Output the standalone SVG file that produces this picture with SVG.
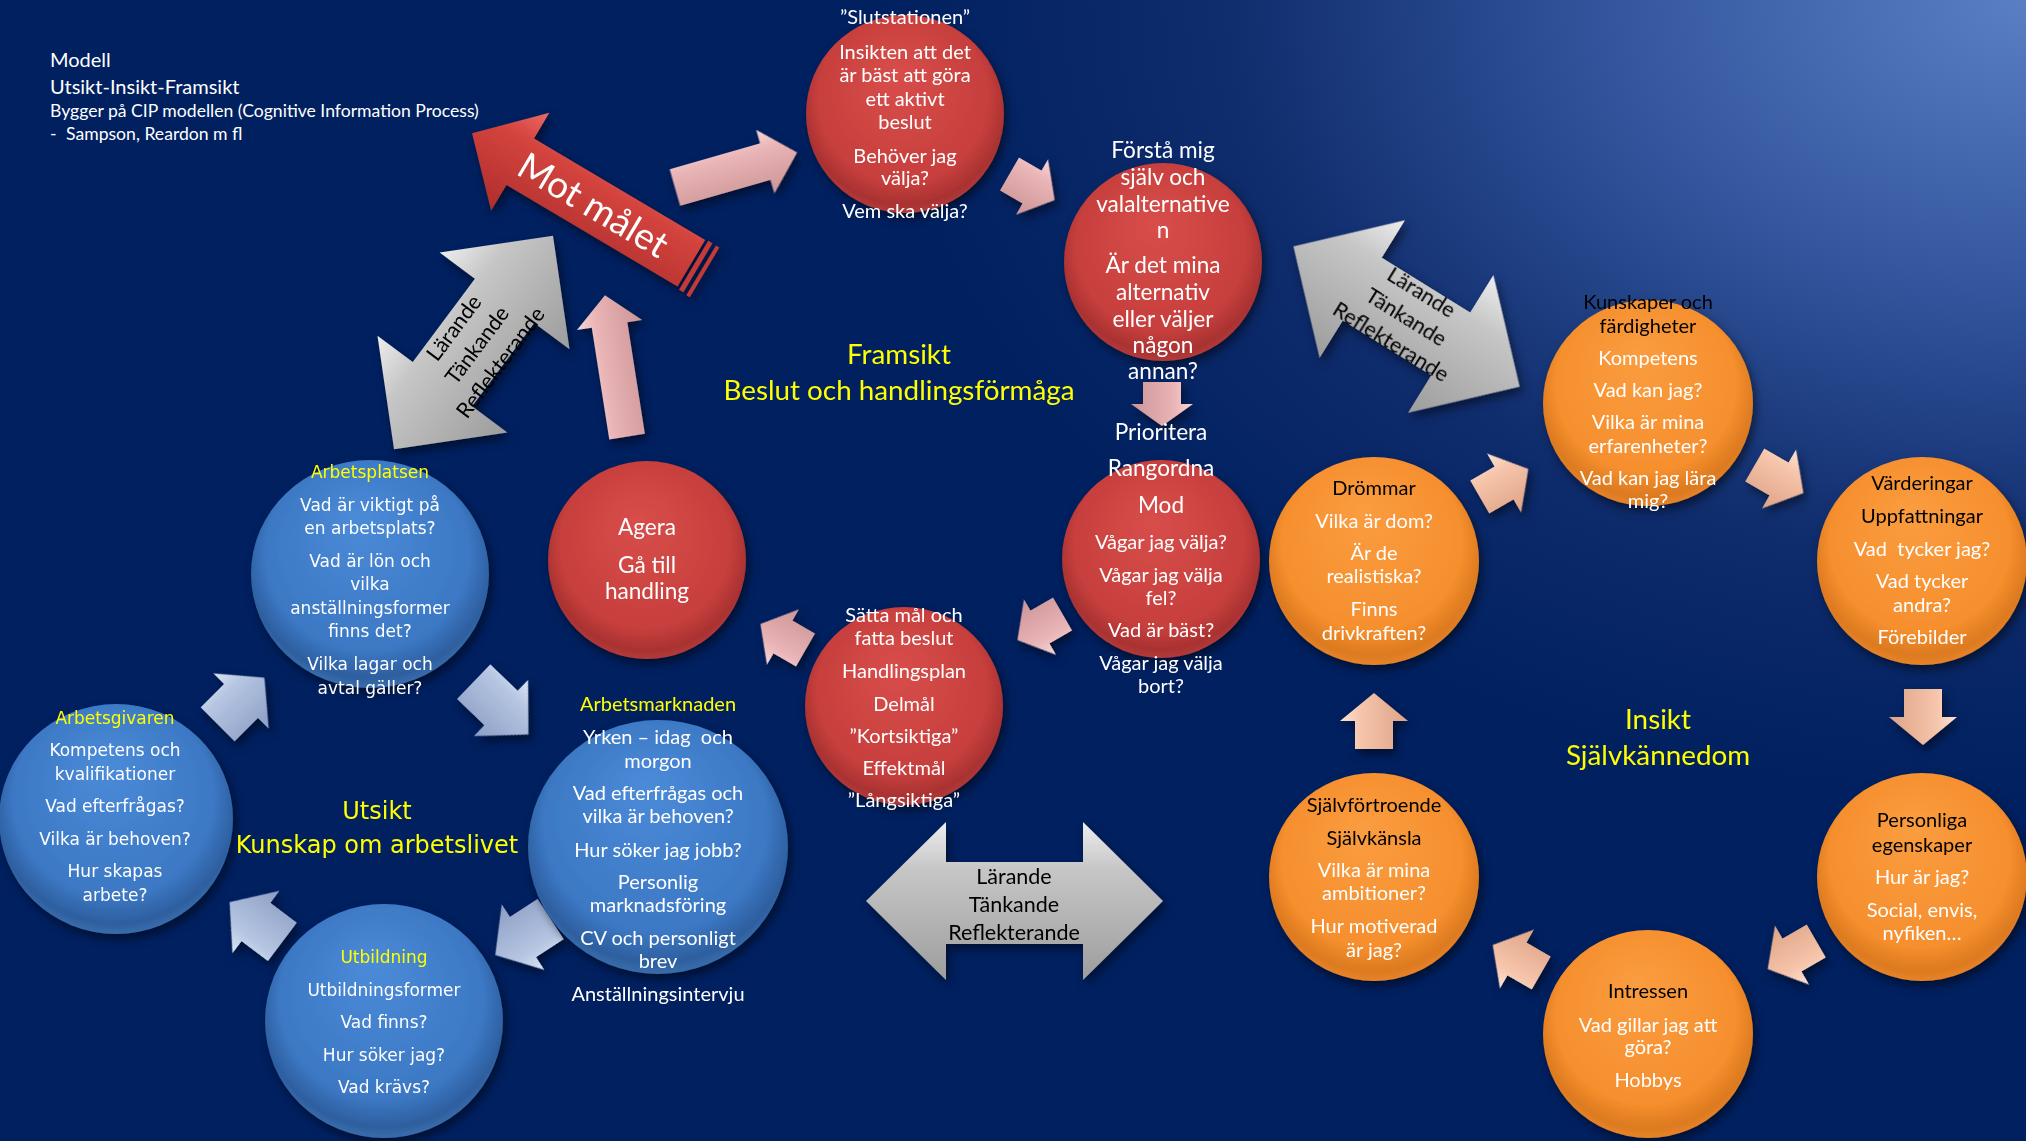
<svg xmlns="http://www.w3.org/2000/svg" width="2026" height="1141" viewBox="0 0 2026 1141">
<defs>
<style>
.lt{font-family:Lato,"Liberation Sans",sans-serif;text-anchor:middle}
.ls{font-family:Lato,"Liberation Sans",sans-serif;text-anchor:start;fill:#fff}
.dv{font-family:"DejaVu Sans",Verdana,sans-serif;text-anchor:middle}
.w{fill:#fff}.k{fill:#000}.y{fill:#ffff00}
.f15{font-size:17.6px}.f17{font-size:17px}.f19{font-size:20px}.f20{font-size:20px}.f21{font-size:22.6px}.fg{font-size:21.5px}.f24{font-size:24px}.f26{font-size:27.8px}.f36{font-size:37px}
.pre{white-space:pre}
.red{fill:url(#gRed)}.blue{fill:url(#gBlue)}.org{fill:url(#gOrg)}
.sh{filter:url(#shadow)}
</style>
<filter id="shadow" x="-20%" y="-20%" width="140%" height="140%">
<feDropShadow dx="3" dy="5" stdDeviation="5" flood-color="#000" flood-opacity="0.5"/>
</filter>
<radialGradient id="bgGlow" gradientUnits="userSpaceOnUse" cx="2026" cy="0" r="1000" gradientTransform="translate(2026 0) scale(1.15 0.8) translate(-2026 0)">
<stop offset="0" stop-color="#5b7fc3"/>
<stop offset="0.35" stop-color="#34579f"/>
<stop offset="0.7" stop-color="#0f2c6c"/>
<stop offset="1" stop-color="#002060"/>
</radialGradient>
<radialGradient id="gRed" cx="0.5" cy="0.45" r="0.55" fx="0.45" fy="0.3">
<stop offset="0" stop-color="#d84e4a"/>
<stop offset="0.78" stop-color="#c73f3d"/>
<stop offset="0.94" stop-color="#a93231"/>
<stop offset="1" stop-color="#b43a3a"/>
</radialGradient>
<radialGradient id="gBlue" cx="0.5" cy="0.45" r="0.55" fx="0.45" fy="0.25">
<stop offset="0" stop-color="#4b8bd8"/>
<stop offset="0.78" stop-color="#3c78c4"/>
<stop offset="0.94" stop-color="#2d5f9f"/>
<stop offset="1" stop-color="#3a6cab"/>
</radialGradient>
<radialGradient id="gOrg" cx="0.5" cy="0.45" r="0.55" fx="0.45" fy="0.25">
<stop offset="0" stop-color="#fa9d40"/>
<stop offset="0.78" stop-color="#f68f2e"/>
<stop offset="0.94" stop-color="#dc7a1f"/>
<stop offset="1" stop-color="#e8832a"/>
</radialGradient>
<linearGradient id="gPink" x1="0" y1="0" x2="0" y2="1">
<stop offset="0" stop-color="#f8d8d8"/>
<stop offset="0.3" stop-color="#eab5b6"/>
<stop offset="1" stop-color="#cc9597"/>
</linearGradient>
<linearGradient id="gBlueA" x1="0" y1="0" x2="0" y2="1">
<stop offset="0" stop-color="#dbe5f4"/>
<stop offset="0.3" stop-color="#b5c5e1"/>
<stop offset="1" stop-color="#8c9ec5"/>
</linearGradient>
<linearGradient id="gPeach" x1="0" y1="0" x2="0" y2="1">
<stop offset="0" stop-color="#fde4d6"/>
<stop offset="0.3" stop-color="#f6c5ab"/>
<stop offset="1" stop-color="#dea386"/>
</linearGradient>
<linearGradient id="gGray" x1="0" y1="0" x2="0" y2="1">
<stop offset="0" stop-color="#eeeeee"/>
<stop offset="0.3" stop-color="#c6c6c6"/>
<stop offset="1" stop-color="#9d9d9d"/>
</linearGradient>
<linearGradient id="gRedA" x1="0" y1="0" x2="0" y2="1">
<stop offset="0" stop-color="#ec6a65"/>
<stop offset="0.3" stop-color="#d5443f"/>
<stop offset="1" stop-color="#ae2e2c"/>
</linearGradient>
<path id="aSmall" d="M-26,-19 H0 V-32 L26,0 L0,32 V19 H-26 Z"/>
<path id="aBlue" d="M-33,-24 H0 V-39 L33,0 L0,39 V24 H-33 Z"/>
<path id="aOrg" d="M-28,-19 H0 V-34 L28,0 L0,34 V19 H-28 Z"/>
<path id="aGray" d="M-133,0 L-52,-81 V-37 H52 V-81 L133,0 L52,81 V37 H-52 V81 Z"/>
</defs>

<rect x="0" y="0" width="2026" height="1141" fill="#002060"/>
<rect x="0" y="0" width="2026" height="1141" fill="url(#bgGlow)"/>

<g id="title">
<text class="ls f20" x="50" y="67">Modell</text>
<text class="ls f20" x="50" y="94">Utsikt-Insikt-Framsikt</text>
<text class="ls f15" x="50" y="117">Bygger på CIP modellen (Cognitive Information Process)</text>
<text class="ls f15" x="50" y="140">-</text>
<text class="ls f15" x="66" y="140">Sampson, Reardon m fl</text>
</g>

<g id="connectors" filter="url(#shadow)">
<g id="arrow-mot-malet" transform="translate(583,199) rotate(30.7)">
<path d="M-129,0 L-73,-57 V-27 H126 V27 H-73 V57 Z" fill="url(#gRedA)"/>
<rect x="129" y="-28" width="5" height="57" fill="#c23a38"/>
<rect x="138" y="-28" width="4" height="58" fill="#c23a38"/>
<text class="lt w f36" x="12" y="13">Mot målet</text>
</g>
<g id="arrow-ltr-1" transform="translate(473.5,342.5) rotate(-53.3)">
<use href="#aGray" fill="url(#gGray)"/>
<text class="lt k fg" x="0" y="-17">Lärande</text>
<text class="lt k fg" x="0" y="12">Tänkande</text>
<text class="lt k fg" x="0" y="41">Reflekterande</text>
</g>
<g id="arrow-ltr-2" transform="translate(1406.5,316.5) rotate(31.8)">
<use href="#aGray" fill="url(#gGray)"/>
<text class="lt k fg" x="0" y="-21">Lärande</text>
<text class="lt k fg" x="0" y="8">Tänkande</text>
<text class="lt k fg" x="0" y="37">Reflekterande</text>
</g>
<g id="arrow-ltr-3">
<path d="M866,901 L946,822 V862 H1083 V822 L1163,901 L1083,980 V944 H946 V980 Z" fill="url(#gGray)"/>
<text class="lt k fg" x="1014" y="884">Lärande</text>
<text class="lt k fg" x="1014" y="912">Tänkande</text>
<text class="lt k fg" x="1014" y="940">Reflekterande</text>
</g>
<path d="M-63.5,-19 H30.5 V-33 L63.5,0 L30.5,33 V19 H-63.5 Z" fill="url(#gPink)" transform="translate(736,170) rotate(-16)"/>
<path d="M-71.5,-18 H41.5 V-33 L71.5,0 L41.5,33 V18 H-71.5 Z" fill="url(#gPink)" transform="translate(616,366) rotate(-98.9)"/>
<use href="#aSmall" fill="url(#gPink)" transform="translate(1032,187) rotate(30)"/>
<path d="M-22,-19 H0 V-31 L22,0 L0,31 V19 H-22 Z" fill="url(#gPink)" transform="translate(1162,404) rotate(90)"/>
<use href="#aSmall" fill="url(#gPink)" transform="translate(1040,627) rotate(150)"/>
<use href="#aSmall" fill="url(#gPink)" transform="translate(783,637) rotate(210)"/>
<use href="#aBlue" fill="url(#gBlueA)" transform="translate(241,701) rotate(-45)"/>
<use href="#aBlue" fill="url(#gBlueA)" transform="translate(501,708) rotate(44) scale(1.15,1)"/>
<use href="#aBlue" fill="url(#gBlueA)" transform="translate(523,937) rotate(147)"/>
<use href="#aBlue" fill="url(#gBlueA)" transform="translate(256,922) rotate(217)"/>
<use href="#aOrg" fill="url(#gPeach)" transform="translate(1504,483) rotate(-30)"/>
<use href="#aOrg" fill="url(#gPeach)" transform="translate(1779,479) rotate(30)"/>
<use href="#aOrg" fill="url(#gPeach)" transform="translate(1923,717) rotate(90)"/>
<use href="#aOrg" fill="url(#gPeach)" transform="translate(1792,955) rotate(150)"/>
<use href="#aOrg" fill="url(#gPeach)" transform="translate(1517,959) rotate(210)"/>
<use href="#aOrg" fill="url(#gPeach)" transform="translate(1374,721) rotate(-90)"/>
</g>

<g id="node-slutstationen">
<ellipse class="red sh" cx="905" cy="114" rx="99" ry="99"/>
<g class="lt w f19">
<text x="905" y="24">”Slutstationen”</text>
<text x="905" y="59">Insikten att det</text>
<text x="905" y="82">är bäst att göra</text>
<text x="905" y="106">ett aktivt</text>
<text x="905" y="129">beslut</text>
<text x="905" y="163">Behöver jag</text>
<text x="905" y="185">välja?</text>
<text x="905" y="218">Vem ska välja?</text>
</g>
</g>

<g id="node-forsta">
<ellipse class="red sh" cx="1163" cy="262" rx="99" ry="99"/>
<g class="lt w f21">
<text x="1163" y="158">Förstå mig</text>
<text x="1163" y="185">själv och</text>
<text x="1163" y="212">valalternative</text>
<text x="1163" y="238">n</text>
<text x="1163" y="273">Är det mina</text>
<text x="1163" y="300">alternativ</text>
<text x="1163" y="327">eller väljer</text>
<text x="1163" y="353">någon</text>
<text x="1163" y="379">annan?</text>
</g>
</g>

<g id="node-mod">
<ellipse class="red sh" cx="1161" cy="559" rx="99" ry="99"/>
<g class="lt w">
<text class="f21" x="1161" y="440">Prioritera</text>
<text class="f21" x="1161" y="476">Rangordna</text>
<text class="f21" x="1161" y="513">Mod</text>
<text class="f19" x="1161" y="549">Vågar jag välja?</text>
<text class="f19" x="1161" y="582">Vågar jag välja</text>
<text class="f19" x="1161" y="605">fel?</text>
<text class="f19" x="1161" y="637">Vad är bäst?</text>
<text class="f19" x="1161" y="670">Vågar jag välja</text>
<text class="f19" x="1161" y="693">bort?</text>
</g>
</g>

<g id="node-satta-mal">
<ellipse class="red sh" cx="904" cy="706" rx="99" ry="99"/>
<g class="lt w f19">
<text x="904" y="622">Sätta mål och</text>
<text x="904" y="645">fatta beslut</text>
<text x="904" y="678">Handlingsplan</text>
<text x="904" y="711">Delmål</text>
<text x="904" y="743">”Kortsiktiga”</text>
<text x="904" y="775">Effektmål</text>
<text x="904" y="807">”Långsiktiga”</text>
</g>
</g>

<g id="node-agera">
<ellipse class="red sh" cx="647" cy="560" rx="99" ry="99"/>
<g class="lt w f21">
<text x="647" y="535">Agera</text>
<text x="647" y="573">Gå till</text>
<text x="647" y="599">handling</text>
</g>
</g>

<g id="node-arbetsplatsen">
<ellipse class="blue sh" cx="370" cy="574" rx="119" ry="114"/>
<g class="dv w f17">
<text class="y" x="370" y="478">Arbetsplatsen</text>
<text x="370" y="511">Vad är viktigt på</text>
<text x="370" y="534">en arbetsplats?</text>
<text x="370" y="567">Vad är lön och</text>
<text x="370" y="590">vilka</text>
<text x="370" y="614">anställningsformer</text>
<text x="370" y="637">finns det?</text>
<text x="370" y="670">Vilka lagar och</text>
<text x="370" y="694">avtal gäller?</text>
</g>
</g>

<g id="node-arbetsgivaren">
<ellipse class="blue sh" cx="116" cy="819" rx="117" ry="115"/>
<g class="dv w f17">
<text class="y" x="115" y="724">Arbetsgivaren</text>
<text x="115" y="756">Kompetens och</text>
<text x="115" y="780">kvalifikationer</text>
<text x="115" y="812">Vad efterfrågas?</text>
<text x="115" y="845">Vilka är behoven?</text>
<text x="115" y="877">Hur skapas</text>
<text x="115" y="901">arbete?</text>
</g>
</g>

<g id="node-utbildning">
<ellipse class="blue sh" cx="384" cy="1021" rx="119" ry="117"/>
<g class="dv w f17">
<text class="y" x="384" y="963">Utbildning</text>
<text x="384" y="996">Utbildningsformer</text>
<text x="384" y="1028">Vad finns?</text>
<text x="384" y="1061">Hur söker jag?</text>
<text x="384" y="1093">Vad krävs?</text>
</g>
</g>

<g id="node-arbetsmarknaden">
<ellipse class="blue sh" cx="658" cy="847" rx="130" ry="127"/>
<g class="lt w f19">
<text class="y" x="658" y="711">Arbetsmarknaden</text>
<text class="pre" x="658" y="744">Yrken – idag  och</text>
<text x="658" y="768">morgon</text>
<text x="658" y="800">Vad efterfrågas och</text>
<text x="658" y="823">vilka är behoven?</text>
<text x="658" y="857">Hur söker jag jobb?</text>
<text x="658" y="889">Personlig</text>
<text x="658" y="912">marknadsföring</text>
<text x="658" y="945">CV och personligt</text>
<text x="658" y="968">brev</text>
<text x="658" y="1001">Anställningsintervju</text>
</g>
</g>

<g id="node-kunskaper">
<ellipse class="org sh" cx="1648" cy="403" rx="105" ry="103"/>
<g class="lt w f19">
<text class="k" x="1648" y="309">Kunskaper och</text>
<text class="k" x="1648" y="333">färdigheter</text>
<text x="1648" y="365">Kompetens</text>
<text x="1648" y="397">Vad kan jag?</text>
<text x="1648" y="429">Vilka är mina</text>
<text x="1648" y="453">erfarenheter?</text>
<text x="1648" y="485">Vad kan jag lära</text>
<text x="1648" y="508">mig?</text>
</g>
</g>

<g id="node-drommar">
<ellipse class="org sh" cx="1374" cy="561" rx="105" ry="104"/>
<g class="lt w f19">
<text class="k" x="1374" y="495">Drömmar</text>
<text x="1374" y="528">Vilka är dom?</text>
<text x="1374" y="560">Är de</text>
<text x="1374" y="583">realistiska?</text>
<text x="1374" y="616">Finns</text>
<text x="1374" y="640">drivkraften?</text>
</g>
</g>

<g id="node-varderingar">
<ellipse class="org sh" cx="1922" cy="561" rx="105" ry="104"/>
<g class="lt w f19">
<text class="k" x="1922" y="490">Värderingar</text>
<text class="k" x="1922" y="523">Uppfattningar</text>
<text class="pre" x="1922" y="556">Vad  tycker jag?</text>
<text x="1922" y="588">Vad tycker</text>
<text x="1922" y="612">andra?</text>
<text x="1922" y="644">Förebilder</text>
</g>
</g>

<g id="node-personliga">
<ellipse class="org sh" cx="1922" cy="877" rx="105" ry="104"/>
<g class="lt w f19">
<text class="k" x="1922" y="827">Personliga</text>
<text class="k" x="1922" y="852">egenskaper</text>
<text x="1922" y="884">Hur är jag?</text>
<text x="1922" y="917">Social, envis,</text>
<text x="1922" y="940">nyfiken…</text>
</g>
</g>

<g id="node-intressen">
<ellipse class="org sh" cx="1648" cy="1034" rx="105" ry="104"/>
<g class="lt w f19">
<text class="k" x="1648" y="998">Intressen</text>
<text x="1648" y="1032">Vad gillar jag att</text>
<text x="1648" y="1054">göra?</text>
<text x="1648" y="1087">Hobbys</text>
</g>
</g>

<g id="node-sjalvfortroende">
<ellipse class="org sh" cx="1374" cy="877" rx="105" ry="104"/>
<g class="lt w f19">
<text class="k" x="1374" y="812">Självförtroende</text>
<text class="k" x="1374" y="845">Självkänsla</text>
<text x="1374" y="877">Vilka är mina</text>
<text x="1374" y="900">ambitioner?</text>
<text x="1374" y="933">Hur motiverad</text>
<text x="1374" y="957">är jag?</text>
</g>
</g>

<g id="headings">
<text class="lt y f26" x="899" y="364">Framsikt</text>
<text class="lt y f26" x="899" y="400">Beslut och handlingsförmåga</text>
<text class="dv y f24" x="377" y="819">Utsikt</text>
<text class="dv y f24" x="377" y="853">Kunskap om arbetslivet</text>
<text class="lt y f26" x="1658" y="729">Insikt</text>
<text class="lt y f26" x="1658" y="765">Självkännedom</text>
</g>
</svg>
